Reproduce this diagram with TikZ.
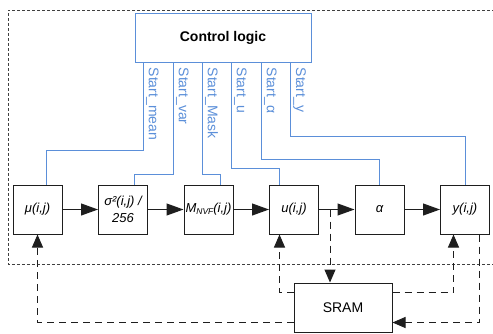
\documentclass[tikz,border=0pt]{standalone}
\usepackage{fontspec}
\setmainfont{Liberation Sans}
\usetikzlibrary{arrows.meta,positioning}
\definecolor{CTLblue}{HTML}{5B8FD9}
\definecolor{CTLink}{HTML}{1E1E1E}
\tikzset{blk/.style={draw=CTLink,line width=1pt,minimum width=49pt,minimum height=49pt,inner sep=0pt,
 align=center,font=\fontsize{13}{17}\selectfont\itshape},
 datarr/.style={-{Triangle[length=17pt,width=12pt]},line width=1pt,draw=CTLink},
 memarr/.style={-{Triangle[length=13pt,width=11pt]},line width=1pt,draw=CTLink,dash pattern=on 7pt off 5pt},
 sigline/.style={draw=CTLblue,line width=0.9pt},
 siglab/.style={text=CTLblue,rotate=-90,anchor=south west,inner sep=1.5pt,font=\fontsize{14}{15}\selectfont},
 frame/.style={draw=CTLink!85,line width=0.8pt,dash pattern=on 3pt off 2pt}}

\begin{document}
\begin{tikzpicture}[x=1pt,y=-1pt]
\useasboundingbox (0,0) rectangle (493,333);
\draw[frame] (500,10) -- (8,10) -- (8,264) -- (500,264);
% processing chain
\node[blk] (mu) at (37.5,209.5) {μ(i,j)};
\node[blk,right=35.5pt of mu] (var) {σ²(i,j) /\\256};
\node[blk,right=35.5pt of var] (mask) {M\raisebox{-1.5pt}{\fontsize{8.5}{9}\selectfont NVF}(i,j)};
\node[blk,right=35.5pt of mask] (u) {u(i,j)};
\node[blk,right=35.5pt of u] (alpha) {α};
\node[blk,right=35.5pt of alpha] (yout) {y(i,j)};
\node[draw=CTLblue,line width=1pt,minimum width=176pt,minimum height=49pt,
 font=\fontsize{14}{16}\selectfont\bfseries] (ctrl) at (223,37.5) {Control logic};
\node[blk,minimum width=98pt,font=\fontsize{14}{16}\selectfont] (sram) at (343,307.5) {SRAM};
\draw[datarr] (mu) -- (var);
\draw[datarr] (var) -- (mask);
\draw[datarr] (mask) -- (u);
\draw[datarr] (u) -- (alpha);
\draw[datarr] (alpha) -- (yout);
% start signals
\coordinate (smean) at ([xshift=9pt]ctrl.south west);
\coordinate (svar) at ([xshift=39pt]ctrl.south west);
\coordinate (smask) at ([xshift=68pt]ctrl.south west);
\coordinate (su) at ([xshift=97pt]ctrl.south west);
\coordinate (salpha) at ([xshift=127pt]ctrl.south west);
\coordinate (sy) at ([xshift=156pt]ctrl.south west);
\draw[sigline] (smean) -- (smean |- 0,150) -| ([xshift=8.5pt]mu.north);
\draw[sigline] (svar) -- (svar |- 0,174) -| ([xshift=11.5pt]var.north);
\draw[sigline] (smask) -- (smask |- 0,174) -| ([xshift=12pt]mask.north);
\draw[sigline] (su) -- (su |- 0,168) -| ([xshift=-14.5pt]u.north);
\draw[sigline] (salpha) -- (salpha |- 0,159) -| (alpha.north);
\draw[sigline] (sy) -- (sy |- 0,136) -| (yout.north);
\node[siglab] at ([xshift=1pt,yshift=-3.5pt]smean) {Start\_mean};
\node[siglab] at ([xshift=1pt,yshift=-3.5pt]svar) {Start\_var};
\node[siglab] at ([xshift=1pt,yshift=-3.5pt]smask) {Start\_Mask};
\node[siglab] at ([xshift=1pt,yshift=-3.5pt]su) {Start\_u};
\node[siglab] at ([xshift=1pt,yshift=-3.5pt]salpha) {Start\_α};
\node[siglab] at ([xshift=1pt,yshift=-3.5pt]sy) {Start\_y};
% memory traffic
\coordinate (tap) at ([xshift=11pt]u.east);
\draw[memarr] (tap) -- (tap |- sram.north);
\draw[memarr] ([yshift=-10pt]sram.north west) -| ([xshift=-14.5pt]u.south);
\draw[memarr] ([yshift=-10pt]sram.north east) -| ([xshift=-11.5pt]yout.south);
\draw[memarr] ([yshift=10pt]sram.south west) -| (mu.south);
\draw[memarr] ([xshift=14.5pt]yout.south) |- ([yshift=10pt]sram.south east);
\end{tikzpicture}
\end{document}
